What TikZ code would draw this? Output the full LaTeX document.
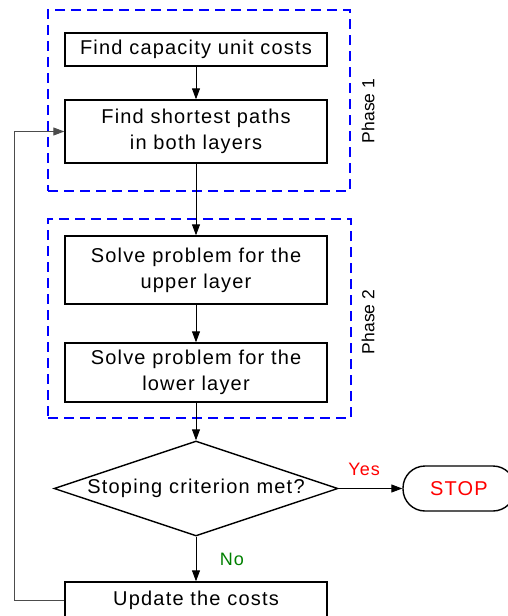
\documentclass[tikz,border=0pt]{standalone}
\usepackage{fontspec}
\setmainfont{Liberation Sans}[LetterSpace=6]
\newfontfamily\plainsans{Liberation Sans}
\usetikzlibrary{shapes.geometric,arrows.meta}
\definecolor{dashblue}{RGB}{0,0,255}
\definecolor{nogreen}{RGB}{0,128,0}
\begin{document}
\begin{tikzpicture}[x=1pt,y=1pt,
  box/.style={draw=black,line width=1.4pt,minimum width=262pt,inner sep=0pt,align=center,
    font=\fontsize{20}{26}\selectfont},
  phasebox/.style={draw=dashblue,line width=1.4pt,dash pattern=on 10pt off 6pt,inner sep=0pt},
  phaselab/.style={rotate=90,font=\plainsans\fontsize{17.5}{20}\selectfont},
  conn/.style={line width=0.9pt,-{Triangle[length=11pt,width=8pt]}},
  loopline/.style={draw=black!70,line width=0.9pt,-{Triangle[length=11pt,width=8pt]}},
  smalllab/.style={font=\fontsize{18}{20}\selectfont},
]
\useasboundingbox (0,0) rectangle (507,-616);
% phases
\node[phasebox,minimum width=302pt,minimum height=181pt] (ph1) at (199,-100.5) {};
\node[phasebox,minimum width=303pt,minimum height=199pt] (ph2) at (199.5,-318.5) {};
\node[phaselab] (ph1lab) at (368,-111) {Phase 1};
\node[phaselab] (ph2lab) at (368,-322) {Phase 2};
% boxes
\node[box,minimum height=33pt] (b1) at (196,-49.5) {Find capacity unit costs};
\node[box,minimum height=63pt] (b2) at (196,-131.5) {Find shortest paths\\in both layers};
\node[box,minimum height=68pt] (b3) at (196,-270) {Solve problem for the\\upper layer};
\node[box,minimum height=59pt] (b4) at (196,-372.5) {Solve problem for the\\lower layer};
\node[draw=black,line width=1.4pt,shape=diamond,aspect=3,minimum width=284pt,minimum height=95pt,
  inner sep=0pt,font=\fontsize{20}{26}\selectfont] (dec) at (196,-488.5) {Stoping criterion met?};
\node[draw=black,line width=1.4pt,rounded corners=22pt,minimum width=112pt,minimum height=45pt,
  inner sep=0pt,text=red,font=\fontsize{20}{26}\selectfont] (stop) at (459,-488.5) {STOP};
\node[box,minimum height=36pt] (upd) at (196,-600) {Update the costs};
% connectors
\draw[conn] (b1) -- (b2);
\draw[conn] (b2) -- (b3);
\draw[conn] (b3) -- (b4);
\draw[conn] (b4) -- (dec);
\draw[conn] (dec.east) -- node[above=9pt,pos=0.4,text=red,smalllab] (yes) {Yes} (stop.west);
\draw[conn] (dec.south) -- node[right=20pt,pos=0.5,text=nogreen,smalllab] (no) {No} (upd.north);
\coordinate (lc) at (14,0);
\draw[loopline] (upd.west) -| (lc |- b2.west) -- (b2.west);
\end{tikzpicture}
\end{document}
